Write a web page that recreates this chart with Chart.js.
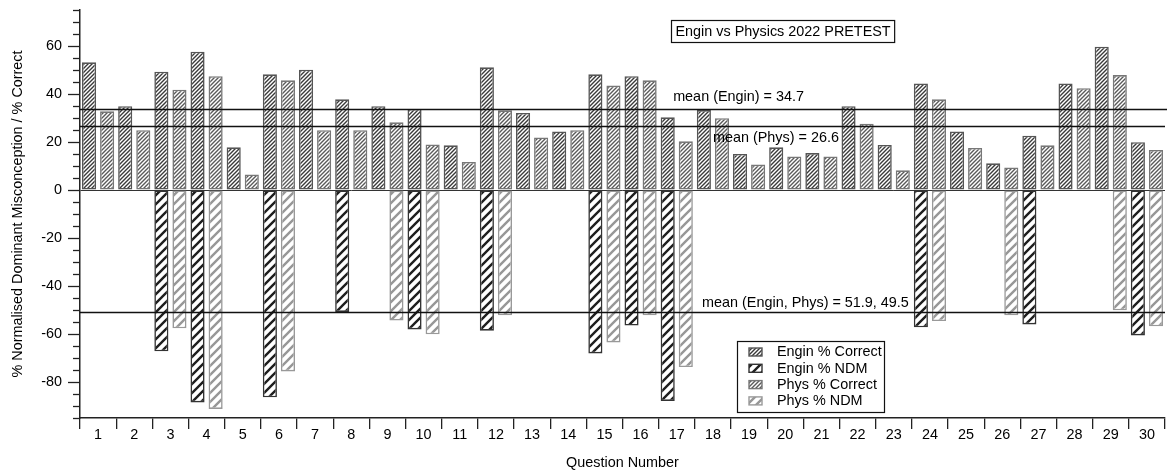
<!DOCTYPE html>
<html>
<head>
<meta charset="utf-8">
<title>Engin vs Physics 2022 PRETEST</title>
<script src="https://cdn.jsdelivr.net/npm/chart.js@4.4.1/dist/chart.umd.min.js"></script>
<style>
    html, body { margin: 0; padding: 0; background: #fff; }
    #wrap { width: 1167px; height: 473px; position: relative; }
</style>
</head>
<body>
<div id="wrap"><canvas id="chart"></canvas></div>
<script>
// values
const questions = ['1', '2', '3', '4', '5', '6', '7', '8', '9', '10',
    '11', '12', '13', '14', '15', '16', '17', '18', '19', '20',
    '21', '22', '23', '24', '25', '26', '27', '28', '29', '30'];

const enginCorrect = [53.2, 34.9, 49.3, 57.6, 17.8, 48.2, 50.1, 37.8, 34.9, 33.8,
    18.6, 51.1, 32.1, 24.4, 48.2, 47.4, 30.3, 33.3, 15.0, 17.8,
    15.4, 34.9, 18.8, 44.4, 24.4, 11.1, 22.6, 44.4, 59.7, 19.9];

const enginNDM = [0, 0, -67.2, -88.5, 0, -86.4, 0, -50.8, 0, -58.1,
    0, -58.6, 0, 0, -68.1, -56.5, -87.9, 0, 0, 0,
    0, 0, 0, -57.2, 0, 0, -56.0, 0, 0, -60.6];

const physCorrect = [32.8, 24.9, 41.8, 47.4, 6.5, 45.7, 24.9, 24.9, 28.2, 19.0,
    11.7, 33.2, 21.9, 24.9, 43.5, 45.7, 20.3, 29.9, 10.6, 14.0,
    14.0, 27.6, 8.2, 37.8, 17.5, 9.4, 18.6, 42.4, 47.9, 16.7];

const physNDM = [0, 0, -57.6, -91.2, 0, -75.6, 0, 0, -54.4, -60.1,
    0, -52.2, 0, 0, -63.5, -52.2, -73.8, 0, 0, 0,
    0, 0, 0, -54.6, 0, -52.2, 0, 0, -50.1, -56.8];

// mean reference lines
const meanValues = [33.8, 26.7, -51.0];
const meanLabels = ['mean (Engin) = 34.7', 'mean (Phys) = 26.6', 'mean (Engin, Phys) = 51.9, 49.5'];

const FONT = '"Liberation Sans", Arial, sans-serif';
const FS = 14.4;

function hatch(step, lineW, color) {
    const c = document.createElement('canvas');
    c.width = step; c.height = step;
    const g = c.getContext('2d');
    g.fillStyle = '#fff';
    g.fillRect(0, 0, step, step);
    g.strokeStyle = color;
    g.lineWidth = lineW;
    g.beginPath();
    g.moveTo(0, step); g.lineTo(step, 0);
    g.moveTo(-step / 2, step / 2); g.lineTo(step / 2, -step / 2);
    g.moveTo(step / 2, step * 1.5); g.lineTo(step * 1.5, step / 2);
    g.stroke();
    return g.createPattern(c, 'repeat');
}

const fills = {
    enginCorrect: hatch(4, 1.4, '#3a3a3a'),
    enginNDM: hatch(9, 2.4, '#1e1e1e'),
    physCorrect: hatch(4, 1.4, '#5a5a5a'),
    physNDM: hatch(9, 2.4, '#979797')
};

// y axis tick marks: minor every 5, major every 20
const yTickPlugin = {
    id: 'yTicks',
    afterDraw(chart) {
        const y = chart.scales.y;
        const ctx = chart.ctx;
        const x0 = chart.chartArea.left;
        ctx.save();
        ctx.strokeStyle = '#222';
        ctx.lineWidth = 1.3;
        for (let v = y.min; v <= y.max; v += 5) {
            const py = Math.round(y.getPixelForValue(v)) + 0.5;
            const len = v % 20 === 0 ? 12 : 7;
            ctx.beginPath();
            ctx.moveTo(x0 - len, py);
            ctx.lineTo(x0, py);
            ctx.stroke();
        }
        ctx.restore();
    }
};

// mean lines, title box and legend
const overlayPlugin = {
    id: 'overlay',
    afterDatasetsDraw(chart, args, opts) {
        const ctx = chart.ctx;
        const x = chart.scales.x, y = chart.scales.y;
        const area = chart.chartArea;
        ctx.save();
        ctx.font = FS + 'px ' + FONT;
        ctx.fillStyle = '#000';

        opts.means.forEach((m, i) => {
            const py = Math.round(y.getPixelForValue(meanValues[i])) + 0.5;
            ctx.strokeStyle = '#111';
            ctx.lineWidth = 1.3;
            ctx.beginPath();
            ctx.moveTo(area.left, py);
            ctx.lineTo(area.right + (i === 0 ? 2 : 0), py);
            ctx.stroke();
            ctx.fillStyle = '#000';
            ctx.textBaseline = 'middle';
            ctx.textAlign = 'left';
            ctx.fillText(meanLabels[i], x.getPixelForValue(m.at), py + m.dy);
        });

        // title box
        const t = opts.title;
        const tw = ctx.measureText(t.text).width;
        const bw = tw + 8, bh = 22;
        const bx = Math.round(t.cx - bw / 2) + 0.5, by = t.top + 0.5;
        ctx.fillStyle = '#fff';
        ctx.fillRect(bx, by, bw, bh);
        ctx.strokeStyle = '#111';
        ctx.lineWidth = 1.2;
        ctx.strokeRect(bx, by, bw, bh);
        ctx.fillStyle = '#000';
        ctx.textAlign = 'center';
        ctx.textBaseline = 'middle';
        ctx.fillText(t.text, bx + bw / 2, by + bh / 2 + 0.5);

        // legend
        const L = opts.legend;
        ctx.fillStyle = '#fff';
        ctx.fillRect(L.x + 0.5, L.y + 0.5, L.w, L.h);
        ctx.strokeStyle = '#111';
        ctx.lineWidth = 1.2;
        ctx.strokeRect(L.x + 0.5, L.y + 0.5, L.w, L.h);
        chart.data.datasets.forEach((ds, i) => {
            const cy = L.y + 11 + i * 16.3;
            ctx.fillStyle = ds.backgroundColor;
            ctx.fillRect(L.x + 12, cy - 4, 13, 8);
            ctx.strokeStyle = ds.borderColor;
            ctx.lineWidth = 1.4;
            ctx.strokeRect(L.x + 12, cy - 4, 13, 8);
            ctx.fillStyle = '#000';
            ctx.textAlign = 'left';
            ctx.textBaseline = 'middle';
            ctx.fillText(ds.label, L.x + 40, cy + 0.5);
        });
        ctx.restore();
    }
};

const barOpts = { barPercentage: 0.78, categoryPercentage: 1.0, borderWidth: 1.6, borderSkipped: false };

new Chart(document.getElementById('chart'), {
    type: 'bar',
    data: {
        labels: questions,
        datasets: [
            { label: 'Engin % Correct', data: enginCorrect, stack: 'engin',
              backgroundColor: fills.enginCorrect, borderColor: '#555', ...barOpts },
            { label: 'Engin % NDM', data: enginNDM, stack: 'engin',
              backgroundColor: fills.enginNDM, borderColor: '#333', ...barOpts },
            { label: 'Phys % Correct', data: physCorrect, stack: 'phys',
              backgroundColor: fills.physCorrect, borderColor: '#777', ...barOpts },
            { label: 'Phys % NDM', data: physNDM, stack: 'phys',
              backgroundColor: fills.physNDM, borderColor: '#999', ...barOpts }
        ]
    },
    options: {
        responsive: true,
        maintainAspectRatio: false,
        animation: false,
        layout: { padding: { top: 10, right: 2, left: 0, bottom: 0 } },
        plugins: {
            legend: { display: false },
            tooltip: { enabled: false },
            overlay: {
                means: [{ at: 15.9, dy: -12 }, { at: 17.0, dy: 12 }, { at: 16.7, dy: -9 }],
                title: { text: 'Engin vs Physics 2022 PRETEST', cx: 782.5, top: 20 },
                legend: { x: 737, y: 341, w: 147, h: 71 }
            }
        },
        scales: {
            x: {
                stacked: true,
                offset: true,
                grid: { display: true, offset: true, drawOnChartArea: false, drawTicks: true,
                        tickLength: 11, color: '#222', lineWidth: 1.3 },
                border: { display: true, color: '#222', width: 1.5 },
                ticks: { color: '#000', font: { family: FONT, size: FS }, padding: -3,
                         maxRotation: 0, autoSkip: false },
                title: { display: true, text: 'Question Number', color: '#000',
                         font: { family: FONT, size: FS }, padding: { top: 0, bottom: 1 } },
                afterFit(scale) { scale.height = 55; }
            },
            y: {
                stacked: true,
                min: -95,
                max: 75,
                grid: { display: true, drawTicks: false,
                        color: c => c.tick && c.tick.value === 0 ? '#333' : 'rgba(0,0,0,0)', lineWidth: 1 },
                border: { display: true, color: '#222', width: 1.5 },
                ticks: { stepSize: 5, autoSkip: false, padding: 18, color: '#000',
                         font: { family: FONT, size: FS },
                         callback: v => (v % 20 === 0 ? String(v) : '') },
                title: { display: true, text: '% Normalised Dominant Misconception / % Correct', color: '#000',
                         font: { family: FONT, size: FS }, padding: { top: 9, bottom: 0 } },
                afterFit(scale) {
                    scale.width = 80;
                    scale.paddingTop = 0;
                    scale.paddingBottom = 0;
                }
            }
        }
    },
    plugins: [yTickPlugin, overlayPlugin]
});
</script>
</body>
</html>
